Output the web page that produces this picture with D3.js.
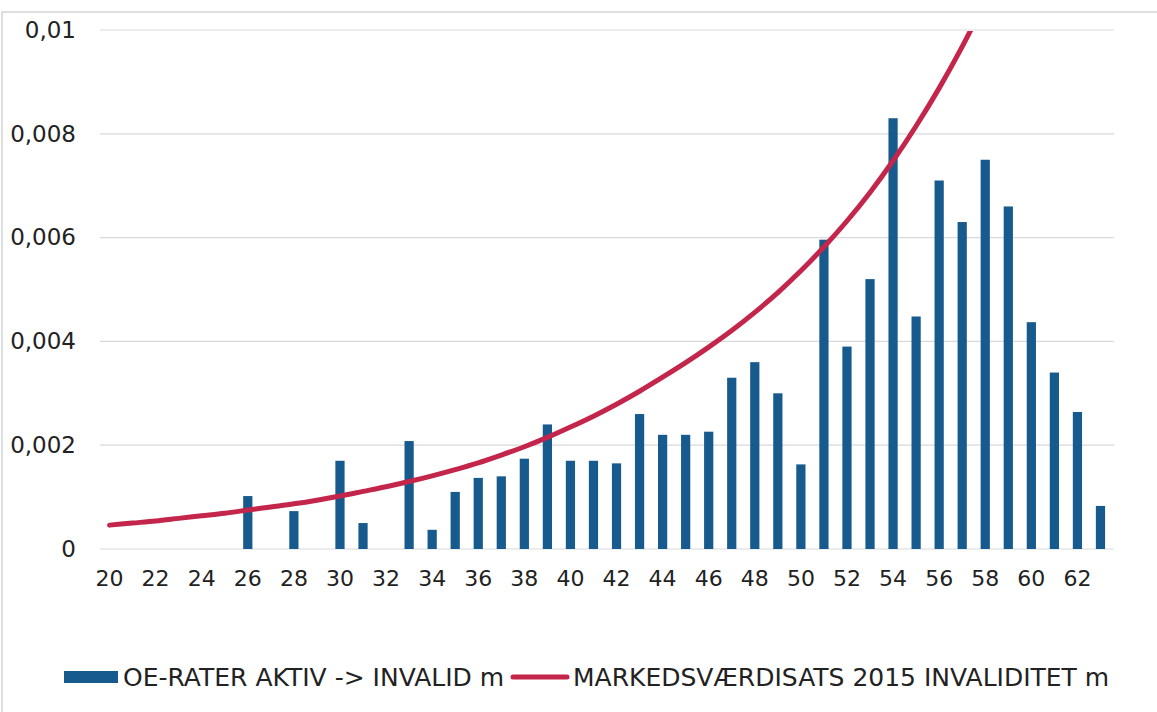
<!DOCTYPE html>
<html>
<head>
<meta charset="utf-8">
<script src="https://cdn.jsdelivr.net/npm/d3@7"></script>
<style>
  html, body { margin: 0; padding: 0; background: #fff; }
  svg { display: block; font-family: "DejaVu Sans", Verdana, sans-serif; }
  .tick text { fill: #222; }
</style>
</head>
<body>
<svg width="1157" height="712"></svg>
<script>
// Ages on the x axis
const ages = d3.range(20, 64);
const tickAges = [20, 22, 24, 26, 28, 30, 32, 34, 36, 38, 40, 42, 44, 46, 48, 50, 52, 54, 56, 58, 60, 62];
const yTicks = [0, 0.002, 0.004, 0.006, 0.008, 0.01];

// OE-rater aktiv -> invalid (bars), per age 20..63
const oeRates = [
    0, 0, 0, 0, 0, 0, 0.00102, 0, 0.00073, 0,        // 20-29
    0.0017, 0.0005, 0, 0.00208, 0.00037, 0.0011, 0.00137, 0.0014, 0.00174, 0.0024, // 30-39
    0.0017, 0.0017, 0.00165, 0.0026, 0.0022, 0.0022, 0.00226, 0.0033, 0.0036, 0.003, // 40-49
    0.00163, 0.00596, 0.0039, 0.0052, 0.0083, 0.00448, 0.0071, 0.0063, 0.0075, 0.0066, // 50-59
    0.00437, 0.0034, 0.00264, 0.00083                  // 60-63
];

// Markedsværdisats 2015 invaliditet (line), ages 20..58 (curve runs off the top)
const lineAges = d3.range(20, 59);
const mvRates = [
    0.00046, 0.00050, 0.00054, 0.00059, 0.00064, 0.00069, 0.00075, 0.00081, 0.00087, 0.00094, // 20-29
    0.00102, 0.00111, 0.00120, 0.00130, 0.00141, 0.00153, 0.00166, 0.00181, 0.00197, 0.00215, // 30-39
    0.00235, 0.00256, 0.00279, 0.00304, 0.00331, 0.00359, 0.00389, 0.00421, 0.00456, 0.00494, // 40-49
    0.00536, 0.00582, 0.00632, 0.00687, 0.00748, 0.00815, 0.00888, 0.00968, 0.01055            // 50-58
];

const barColor = "#165a8e";
const lineColor = "#c4254a";

const svg = d3.select("svg");

const margin = { top: 30, right: 45, bottom: 163, left: 98 };
const W = 1157, H = 712;

const x = d3.scaleBand()
    .domain(ages)
    .range([margin.left, W - margin.right])
    .paddingInner(0.6)
    .paddingOuter(0.3);

const y = d3.scaleLinear()
    .domain([0, 0.01])
    .range([H - margin.bottom, margin.top]);

// faint scanned page border
svg.append("path")
    .attr("d", `M2,${H} V12 H${W}`)
    .attr("fill", "none")
    .attr("stroke", "#d4d4d4")
    .attr("stroke-width", 1.5);

// gridlines
svg.append("g")
    .selectAll("line")
    .data(yTicks)
    .join("line")
    .attr("x1", margin.left + 2)
    .attr("x2", W - margin.right + 2)
    .attr("y1", d => y(d))
    .attr("y2", d => y(d))
    .attr("stroke", "#d9d9d9")
    .attr("stroke-width", 1.2);

// y axis labels
const fmt = d => d === 0 ? "0" : String(+d.toFixed(3)).replace(".", ",");
const yAxis = d3.axisLeft(y).tickValues(yTicks).tickFormat(fmt).tickSize(0).tickPadding(0);
svg.append("g")
    .attr("transform", `translate(${margin.left - 22},0)`)
    .call(yAxis)
    .call(g => g.select(".domain").remove())
    .selectAll("text")
    .attr("font-size", 23)
    .attr("font-family", "'DejaVu Sans', Verdana, sans-serif");

// x axis labels
const xAxis = d3.axisBottom(x).tickValues(tickAges).tickSize(0).tickPadding(0);
svg.append("g")
    .attr("transform", `translate(0,${y(0) + 21})`)
    .call(xAxis)
    .call(g => g.select(".domain").remove())
    .selectAll("text")
    .attr("font-size", 22)
    .attr("font-family", "'DejaVu Sans', Verdana, sans-serif");

// bars
svg.append("g")
    .selectAll("rect")
    .data(ages.map((a, i) => ({ age: a, v: oeRates[i] })).filter(d => d.v > 0))
    .join("rect")
    .attr("x", d => x(d.age))
    .attr("width", x.bandwidth())
    .attr("y", d => y(d.v))
    .attr("height", d => y(0) - y(d.v))
    .attr("fill", barColor);

// clip the curve at the top of the plot
svg.append("clipPath")
    .attr("id", "plotClip")
    .append("rect")
    .attr("x", 0)
    .attr("y", y(0.01) + 1)
    .attr("width", W)
    .attr("height", y(0) - y(0.01));

const line = d3.line()
    .x((d, i) => x(lineAges[i]) + x.bandwidth() / 2)
    .y(d => y(d))
    .curve(d3.curveMonotoneX);

svg.append("path")
    .datum(mvRates)
    .attr("clip-path", "url(#plotClip)")
    .attr("fill", "none")
    .attr("stroke", lineColor)
    .attr("stroke-width", 5)
    .attr("stroke-linecap", "round")
    .attr("d", line);

// legend
const legY = 677;
const legend = svg.append("g").attr("font-size", 25).attr("fill", "#222");
legend.append("rect")
    .attr("x", 64).attr("y", legY - 6)
    .attr("width", 54).attr("height", 12)
    .attr("fill", barColor);
legend.append("text")
    .attr("x", 123).attr("y", legY)
    .attr("dy", "0.35em")
    .text("OE-RATER AKTIV -> INVALID m");
legend.append("line")
    .attr("x1", 513).attr("x2", 567)
    .attr("y1", legY).attr("y2", legY)
    .attr("stroke", lineColor)
    .attr("stroke-width", 5)
    .attr("stroke-linecap", "round");
legend.append("text")
    .attr("x", 573).attr("y", legY)
    .attr("dy", "0.35em")
    .text("MARKEDSVÆRDISATS 2015 INVALIDITET m");
</script>
</body>
</html>
